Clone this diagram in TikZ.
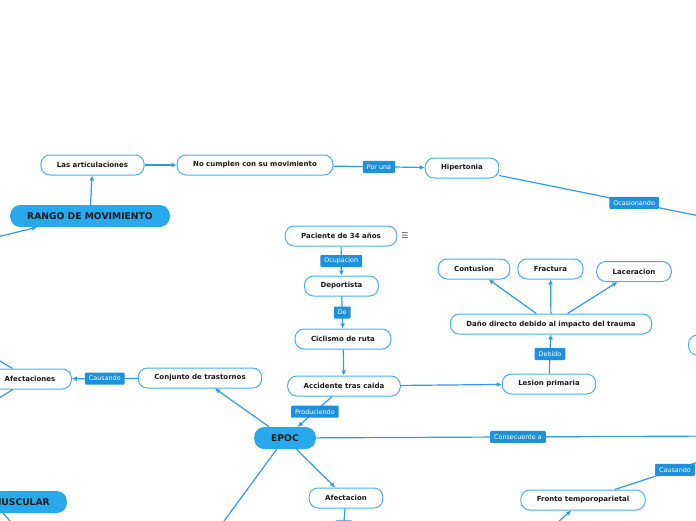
\documentclass[tikz,border=0pt]{standalone}
\usepackage{fontspec}
\setmainfont{DejaVu Sans}
\usepackage{xcolor}
\usepackage{tikz}
\usetikzlibrary{arrows.meta}
\definecolor{mblue}{HTML}{2E9BE2}
\definecolor{mfill}{HTML}{29A9EC}
\definecolor{mlabel}{HTML}{1E91DC}
\definecolor{mborder}{HTML}{4DADE8}

\begin{document}
\begin{tikzpicture}[x=1pt,y=-1pt,
  topic/.style={draw=mborder, line width=1pt, fill=white, rounded corners=9pt,
    minimum height=20pt, inner xsep=16pt, inner ysep=0pt,
    font=\fontsize{7}{8}\selectfont\bfseries, text=black!90},
  central/.style={fill=mfill, rounded corners=10pt, minimum height=22pt,
    inner xsep=17pt, inner ysep=0pt, font=\fontsize{9.2}{10}\selectfont\bfseries,
    text=black!90},
  lbl/.style={fill=mlabel, rounded corners=1pt, minimum height=12pt,
    inner xsep=4pt, inner ysep=0pt, text=white,
    font=\fontsize{6.4}{7}\selectfont},
  link/.style={draw=mblue, line width=1.2pt},
  arr/.style={link, -{Latex[length=5pt,width=5pt]}}]

  % ----- marco -----
  \useasboundingbox (0,0) rectangle (696,520);
  \clip (0,0) rectangle (696,520);

  % ----- nodos principales -----
  \node[central] (rango) at (90,216) {RANGO DE MOVIMIENTO};
  \node[central] (epoc) at (285,438) {EPOC};
  \node[central, anchor=east] (muscular) at (67,502) {MUSCULAR};

  % ----- temas -----
  \node[topic] (articulaciones) at (92.5,165) {Las articulaciones};
  \node[topic] (nocumplen) at (255,165) {No cumplen con su movimiento};
  \node[topic] (hipertonia) at (462,168) {Hipertonia};
  \node[topic] (paciente) at (341,236) {Paciente de 34 años};
  \node[text=black!70, font=\fontsize{8}{9}\selectfont] (menu) at (405,236) {☰};
  \node[topic] (deportista) at (341.5,286) {Deportista};
  \node[topic] (ciclismo) at (343,339) {Ciclismo de ruta};
  \node[topic] (accidente) at (344,386) {Accidente tras caida};
  \node[topic] (lesion) at (549,384) {Lesion primaria};
  \node[topic] (dano) at (551,324) {Daño directo debido al impacto del trauma};
  \node[topic] (contusion) at (474,269) {Contusion};
  \node[topic] (fractura) at (550.5,269) {Fractura};
  \node[topic] (laceracion) at (634,271.5) {Laceracion};
  \node[topic] (conjunto) at (200,378) {Conjunto de trastornos};
  \node[topic] (afectaciones) at (30,379) {Afectaciones};
  \node[topic] (afectacion) at (346,498) {Afectacion};
  \node[topic] (fronto) at (583,500) {Fronto temporoparietal};
  \node[topic, anchor=west, minimum width=60pt] (derecha) at (688,345) {};

  % ----- extremos fuera del marco -----
  \coordinate (rangoin) at (-60,251);
  \coordinate (ocasion) at (769,230);
  \coordinate (consec) at (720,436);
  \coordinate (causa) at (735,450);
  \coordinate (frontoin) at (540,538);
  \coordinate (epocout) at (180,581);
  \coordinate (afecout) at (342,544);
  \coordinate (musout) at (34,548);
  \coordinate (afup) at (-40,337);
  \coordinate (afdown) at (-40,422);

  % ----- conectores -----
  \draw[arr] (rangoin) -- ([xshift=-53pt]rango.south);
  \draw[arr] (rango) -- (articulaciones);
  \draw[arr] (articulaciones) -- (nocumplen);
  \draw[arr] (nocumplen) -- node[lbl] (lporuna) {Por una} (hipertonia);
  \draw[link] (hipertonia) -- node[lbl] (locasion) {Ocasionando} (ocasion);

  \draw[arr] (paciente) -- node[lbl] (locupa) {Ocupacion} (deportista);
  \draw[arr] (deportista) -- node[lbl] (lde) {De} (ciclismo);
  \draw[arr] (ciclismo) -- (accidente);
  \draw[arr] (accidente) -- (lesion);
  \draw[arr] (lesion) -- node[lbl] (ldebido) {Debido} (dano);
  \draw[arr] (dano) -- (contusion);
  \draw[arr] (dano) -- (fractura);
  \draw[arr] (dano) -- (laceracion);

  \draw[arr] (accidente) -- node[lbl] (lprod) {Produciendo} (epoc);
  \draw[arr] (epoc) -- (conjunto);
  \draw[arr] (conjunto) -- node[lbl] (lcausa) {Causando} (afectaciones);
  \draw[link] (afectaciones) -- (afup);
  \draw[link] (afectaciones) -- (afdown);
  \draw[link] (epoc) -- node[lbl] (lconsec) {Consecuente a} (consec);
  \draw[arr] (epoc) -- (afectacion);
  \draw[link] (epoc) -- (epocout);
  \draw[link] (afectacion) -- node[lbl, minimum width=17pt] (lafec) {} (afecout);
  \draw[link] (fronto) -- node[lbl] (lcausa2) {Causando} (causa);
  \draw[arr] (frontoin) -- (fronto);
  \draw[link] ([xshift=-18pt]muscular.south) -- (musout);

\end{tikzpicture}
\end{document}
